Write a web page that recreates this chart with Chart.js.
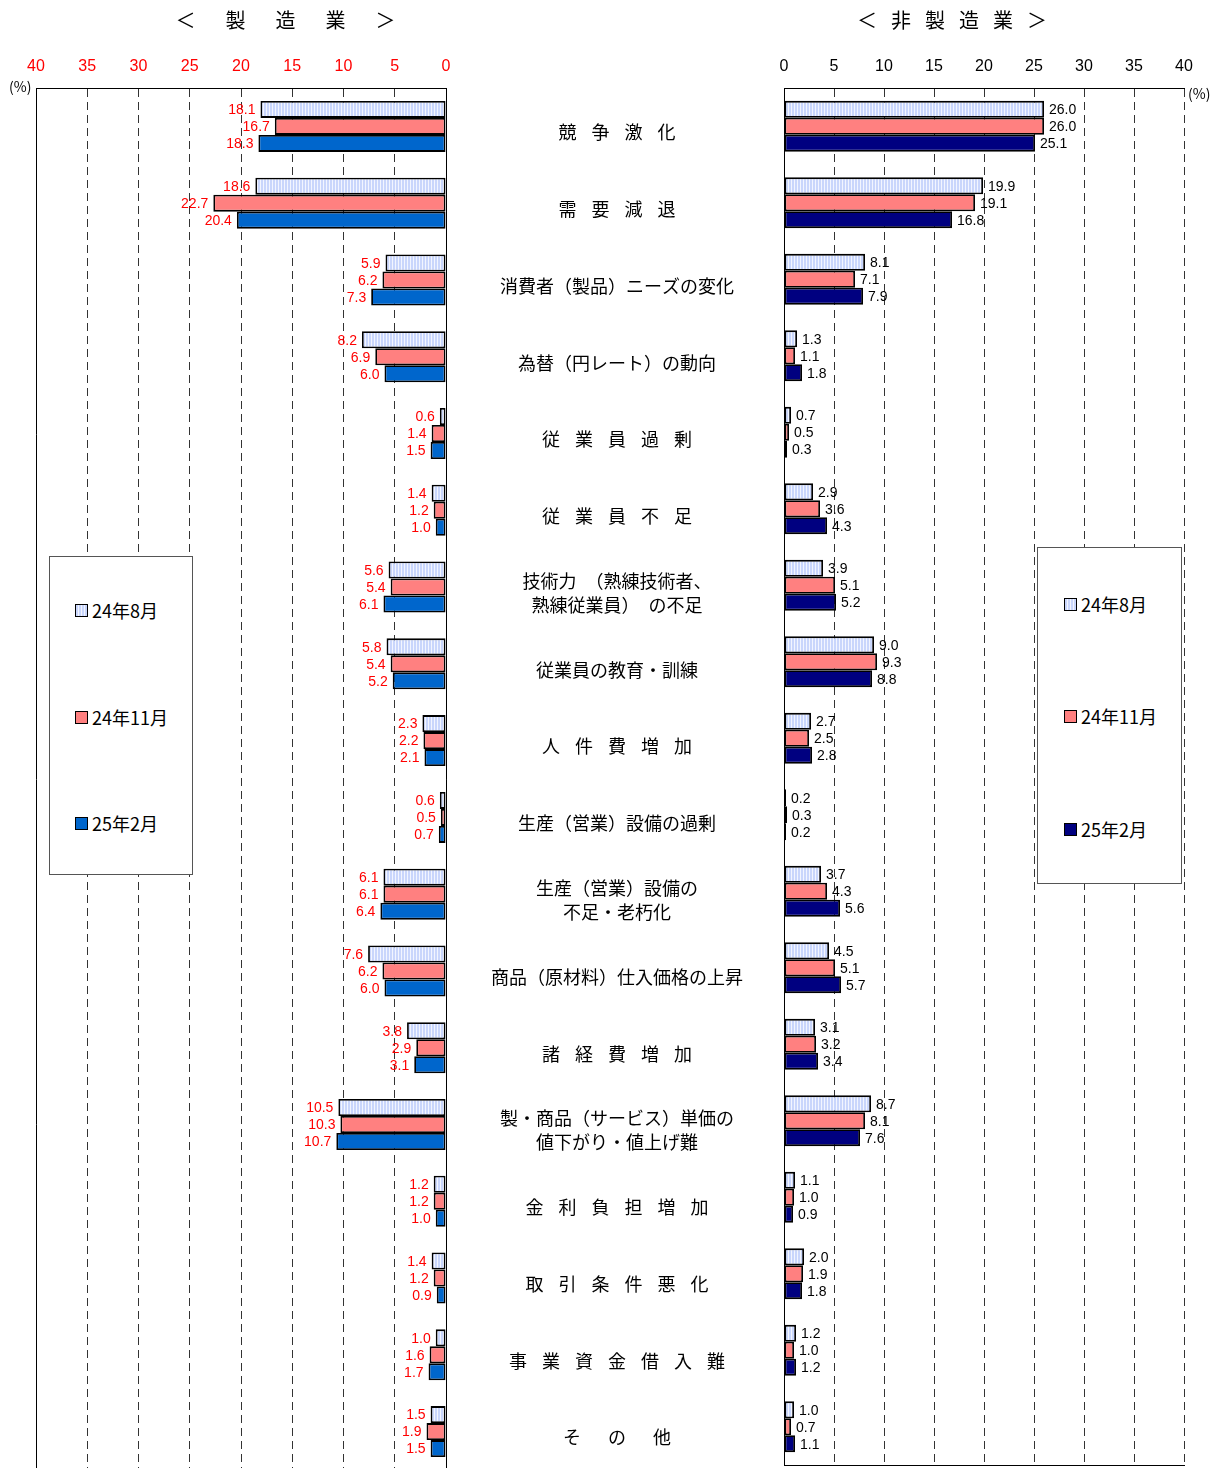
<!DOCTYPE html>
<html lang="ja">
<head>
<meta charset="utf-8">
<script src="https://cdn.jsdelivr.net/npm/chart.js@4.4.1/dist/chart.umd.min.js"></script>
<style>
html, body { margin: 0; padding: 0; background: #fff; overflow: hidden; }
#wrap { position: relative; width: 1223px; height: 1468px; overflow: hidden; font-family: "Noto Sans CJK JP", sans-serif; }
canvas { position: absolute; top: 0; }
#leftChart { left: 0; }
#rightChart { left: 744px; }
.title { position: absolute; top: 6px; font-size: 20px; line-height: 28px; white-space: nowrap; transform: translateX(-50%); }
.pct { position: absolute; font-size: 14px; line-height: 16px; font-family: "Noto Sans CJK JP", sans-serif; }
.legend { position: absolute; background: #fff; border: 1px solid #555; box-sizing: border-box; }
.legend .item { position: absolute; font-size: 18px; line-height: 20px; height: 20px; white-space: nowrap; display: flex; align-items: center; }
.swatch { width: 11px; height: 11px; border: 1px solid #000; margin-right: 4px; }
</style>
</head>
<body>
<div id="wrap">
  <canvas id="leftChart" width="784" height="1470"></canvas>
  <canvas id="rightChart" width="479" height="1468"></canvas>
  <div class="title" style="left:288px; letter-spacing:5px;">＜　製　造　業　＞</div>
  <div class="title" style="left:959px; letter-spacing:14px;">＜非製造業＞</div>
  <div class="pct" style="left:9px; top:78px;">(%)</div>
  <div class="pct" style="left:1188px; top:85px;">(%)</div>
  <div class="legend" id="legendLeft" style="left:49px; top:556px; width:144px; height:319px;"></div>
  <div class="legend" id="legendRight" style="left:1037px; top:547px; width:145px; height:337px;"></div>
</div>
<script>
// spread characters of short labels
const spaced = (s, gap = '\u2002\u2004') => s.split('').join(gap);

const categories = [
    spaced('競争激化'),
    spaced('需要減退'),
    '消費者（製品）ニーズの変化',
    '為替（円レート）の動向',
    spaced('従業員過剰'),
    spaced('従業員不足'),
    ['技術力\u2002（熟練技術者、', '熟練従業員）\u2002の不足'],
    '従業員の教育・訓練',
    spaced('人件費増加'),
    '生産（営業）設備の過剰',
    ['生産（営業）設備の', '不足・老朽化'],
    '商品（原材料）仕入価格の上昇',
    spaced('諸経費増加'),
    ['製・商品（サービス）単価の', '値下がり・値上げ難'],
    spaced('金利負担増加'),
    spaced('取引条件悪化'),
    spaced('事業資金借入難'),
    spaced('その他', '\u2003\u2002')
];

const seriesNames = ['24年8月', '24年11月', '25年2月'];

// manufacturing (left)
const mfgAug24 = [18.1, 18.6, 5.9, 8.2, 0.6, 1.4, 5.6, 5.8, 2.3, 0.6, 6.1, 7.6, 3.8, 10.5, 1.2, 1.4, 1.0, 1.5];
const mfgNov24 = [16.7, 22.7, 6.2, 6.9, 1.4, 1.2, 5.4, 5.4, 2.2, 0.5, 6.1, 6.2, 2.9, 10.3, 1.2, 1.2, 1.6, 1.9];
const mfgFeb25 = [18.3, 20.4, 7.3, 6.0, 1.5, 1.0, 6.1, 5.2, 2.1, 0.7, 6.4, 6.0, 3.1, 10.7, 1.0, 0.9, 1.7, 1.5];

// non-manufacturing (right)
const nonAug24 = [26.0, 19.9, 8.1, 1.3, 0.7, 2.9, 3.9, 9.0, 2.7, 0.2, 3.7, 4.5, 3.1, 8.7, 1.1, 2.0, 1.2, 1.0];
const nonNov24 = [26.0, 19.1, 7.1, 1.1, 0.5, 3.6, 5.1, 9.3, 2.5, 0.3, 4.3, 5.1, 3.2, 8.1, 1.0, 1.9, 1.0, 0.7];
const nonFeb25 = [25.1, 16.8, 7.9, 1.8, 0.3, 4.3, 5.2, 8.8, 2.8, 0.2, 5.6, 5.7, 3.4, 7.6, 0.9, 1.8, 1.2, 1.1];

const tickValues = [0, 5, 10, 15, 20, 25, 30, 35, 40];

const stripeBase = '#c9d6fc';
const stripeLine = '#f2f5ff';
const pink = '#ff8080';
const leftBlue = '#0066cc';
const navy = '#000080';

const numFont = '"Liberation Sans Narrow", "Liberation Sans", sans-serif';

function stripePattern(ctx) {
    const c = document.createElement('canvas');
    c.width = 3; c.height = 3;
    const g = c.getContext('2d');
    g.fillStyle = stripeBase; g.fillRect(0, 0, 3, 3);
    g.fillStyle = stripeLine; g.fillRect(2, 0, 1, 3);
    return ctx.createPattern(c, 'repeat');
}

// value labels at bar ends
const valueLabels = (color, side) => ({
    id: 'valueLabels',
    afterDatasetsDraw(chart) {
        const ctx = chart.ctx;
        ctx.save();
        ctx.font = '14px ' + numFont;
        ctx.fillStyle = color;
        ctx.textBaseline = 'middle';
        ctx.textAlign = side < 0 ? 'right' : 'left';
        chart.data.datasets.forEach((ds, di) => {
            chart.getDatasetMeta(di).data.forEach((bar, i) => {
                ctx.fillText(ds.data[i].toFixed(1), bar.x + side * 5, bar.y + 1);
            });
        });
        ctx.restore();
    }
});

// category names in the gap between the two charts
const centerLabels = {
    id: 'centerLabels',
    afterDraw(chart) {
        const y = chart.scales.y;
        const ctx = chart.ctx;
        ctx.save();
        ctx.font = '18px "Noto Sans CJK JP", sans-serif';
        ctx.fillStyle = '#000';
        ctx.textAlign = 'center';
        ctx.textBaseline = 'middle';
        const cx = (y.left + y.right) / 2 + 2;
        categories.forEach((lab, i) => {
            const lines = Array.isArray(lab) ? lab : [lab];
            const py = y.getPixelForValue(i) + 6;
            lines.forEach((ln, j) => ctx.fillText(ln, cx, py + (j - (lines.length - 1) / 2) * 24));
        });
        ctx.restore();
    }
};

const makeDatasets = (ctx, values, lastColor) => values.map((data, k) => ({
    label: seriesNames[k],
    data: data,
    backgroundColor: k === 0 ? stripePattern(ctx) : (k === 1 ? pink : lastColor),
    borderColor: '#000',
    borderWidth: 1.8,
    borderSkipped: false,
    categoryPercentage: 0.664,
    barPercentage: 1
}));

const xAxis = (reverse, tickColor, isSolid) => ({
    type: 'linear',
    position: 'top',
    min: 0,
    max: 40,
    reverse: reverse,
    afterBuildTicks: s => { s.ticks = tickValues.map(v => ({ value: v })); },
    afterFit: s => { s.height = 88; },
    ticks: {
        color: tickColor,
        padding: 12,
        font: { size: 16, family: numFont }
    },
    grid: {
        drawTicks: false,
        color: c => (c.tick && isSolid(c.tick.value)) ? '#000' : '#333',
        lineWidth: 1
    },
    border: {
        display: true,
        color: '#000',
        width: 1,
        dash: c => (c.tick && !isSolid(c.tick.value)) ? [8, 5] : []
    }
});

// left: manufacturing
const leftCanvas = document.getElementById('leftChart');
const leftCtx = leftCanvas.getContext('2d');
new Chart(leftCtx, {
    type: 'bar',
    data: {
        labels: categories,
        datasets: makeDatasets(leftCtx, [mfgAug24, mfgNov24, mfgFeb25], leftBlue)
    },
    options: {
        indexAxis: 'y',
        responsive: false,
        animation: false,
        layout: { padding: { left: 36, right: 0, top: 0, bottom: 0 } },
        plugins: { legend: { display: false }, tooltip: { enabled: false } },
        scales: {
            x: xAxis(true, '#ff0000', v => v === 0 || v === 40),
            y: {
                position: 'right',
                afterFit: s => { s.width = 338; },
                ticks: { display: false },
                grid: { display: false },
                border: { display: true, color: '#000', width: 1 }
            }
        }
    },
    plugins: [valueLabels('#ff0000', -1), centerLabels]
});

// right: non-manufacturing
const rightCanvas = document.getElementById('rightChart');
const rightCtx = rightCanvas.getContext('2d');
new Chart(rightCtx, {
    type: 'bar',
    data: {
        labels: categories,
        datasets: makeDatasets(rightCtx, [nonAug24, nonNov24, nonFeb25], navy)
    },
    options: {
        indexAxis: 'y',
        responsive: false,
        animation: false,
        layout: { padding: { left: 40, right: 39, top: 0, bottom: 3 } },
        plugins: { legend: { display: false }, tooltip: { enabled: false } },
        scales: {
            x: xAxis(false, '#000', v => v === 0),
            x2: {
                type: 'linear',
                position: 'bottom',
                min: 0,
                max: 40,
                afterFit: s => { s.height = 0; },
                ticks: { display: false },
                grid: { display: false },
                border: { display: true, color: '#000', width: 1 }
            },
            y: { display: false }
        }
    },
    plugins: [valueLabels('#000', 1)]
});

// legend boxes
function buildLegend(id, tops, lastColor, swatchLeft) {
    const box = document.getElementById(id);
    const fills = [
        'repeating-linear-gradient(90deg, ' + stripeBase + ' 0 2px, ' + stripeLine + ' 2px 3px)',
        pink,
        lastColor
    ];
    seriesNames.forEach((name, k) => {
        const item = document.createElement('div');
        item.className = 'item';
        item.style.left = swatchLeft + 'px';
        item.style.top = (tops[k] - 10) + 'px';
        const sw = document.createElement('span');
        sw.className = 'swatch';
        sw.style.background = fills[k];
        const tx = document.createElement('span');
        tx.textContent = name;
        item.appendChild(sw);
        item.appendChild(tx);
        box.appendChild(item);
    });
}
buildLegend('legendLeft', [53, 160, 266], leftBlue, 25);
buildLegend('legendRight', [56, 168, 281], navy, 26);
</script>
</body>
</html>
